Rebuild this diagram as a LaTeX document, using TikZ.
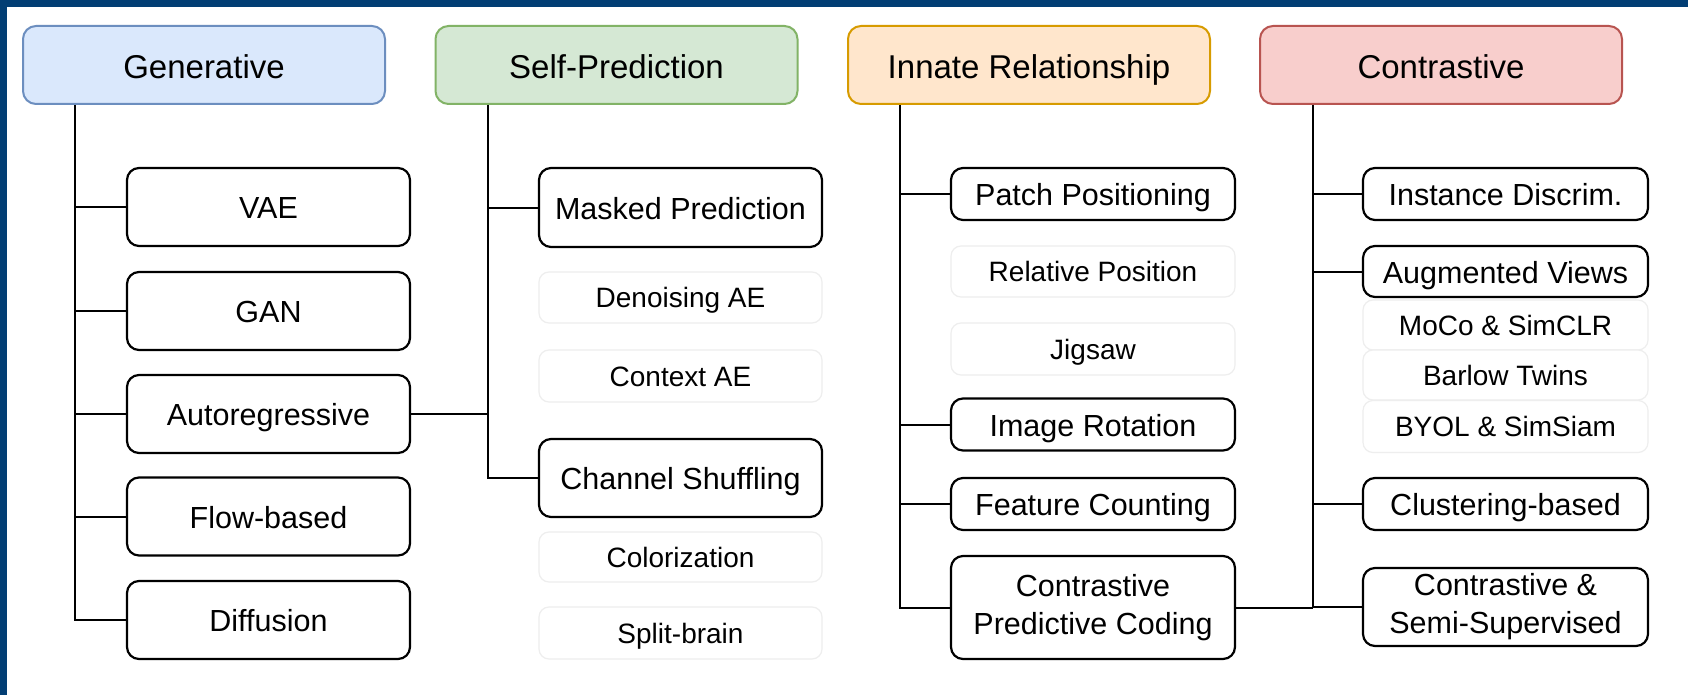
\documentclass[tikz,border=0pt]{standalone}
\usepackage{fontspec}
\setmainfont{Liberation Sans}
\definecolor{frameblue}{RGB}{2,62,116}
\definecolor{genfill}{HTML}{DAE8FC}\definecolor{gendraw}{HTML}{6C8EBF}
\definecolor{spfill}{HTML}{D5E8D4}\definecolor{spdraw}{HTML}{82B366}
\definecolor{irfill}{HTML}{FFE6CC}\definecolor{irdraw}{HTML}{D79B00}
\definecolor{ctfill}{HTML}{F8CECC}\definecolor{ctdraw}{HTML}{B85450}
\definecolor{faintline}{HTML}{EEEEEE}
\begin{document}
\begin{tikzpicture}[x=1pt,y=-1pt,
  twoline/.style={text height=, text depth=},
  head/.style={rounded corners=13pt, line width=2pt, minimum width=362pt,
    minimum height=78pt, inner sep=0pt, text height=30pt, text depth=2pt,
    font=\fontsize{33}{40}\selectfont},
  item/.style={draw=black, line width=2.2pt, rounded corners=12pt, fill=white,
    minimum width=283pt, inner sep=0pt, align=center,
    text height=28pt, text depth=5pt, font=\fontsize{30.5}{38}\selectfont},
  faint/.style={draw=faintline, line width=1.2pt, rounded corners=10pt, fill=white,
    minimum width=283pt, inner sep=0pt, align=center,
    text height=26pt, text depth=6pt, font=\fontsize{28}{34}\selectfont},
  link/.style={line width=2pt, draw=black}]
\useasboundingbox (0,0) rectangle (1688,695);
\fill[white] (0,0) rectangle (1688,695);
% frame strips
\fill[frameblue] (0,0) rectangle (1688,7);
\fill[frameblue] (0,0) rectangle (7,695);

% category headers
\node[head, fill=genfill, draw=gendraw] (gen) at (204,65) {Generative};
\node[head, fill=spfill, draw=spdraw] (sp) at (616.5,65) {Self-Prediction};
\node[head, fill=irfill, draw=irdraw] (ir) at (1029,65) {Innate Relationship};
\node[head, fill=ctfill, draw=ctdraw] (ct) at (1441,65) {Contrastive};

% Generative
\node[item, minimum height=78pt] (vae) at (268.5,207) {VAE};
\node[item, minimum height=78pt] (gan) at (268.5,311) {GAN};
\node[item, minimum height=78pt] (auto) at (268.5,414) {Autoregressive};
\node[item, minimum height=78pt] (flow) at (268.5,516.5) {Flow-based};
\node[item, minimum height=78pt] (diff) at (268.5,620) {Diffusion};

% Self-Prediction
\node[item, minimum height=79pt] (mask) at (680.5,207.5) {Masked Prediction};
\node[faint, minimum height=51pt] (dae) at (680.5,297.5) {Denoising AE};
\node[faint, minimum height=52pt] (cae) at (680.5,376) {Context AE};
\node[item, minimum height=78pt] (chan) at (680.5,478) {Channel Shuffling};
\node[faint, minimum height=50pt] (color) at (680.5,557) {Colorization};
\node[faint, minimum height=52pt] (split) at (680.5,633) {Split-brain};

% Innate Relationship
\node[item, minimum width=284pt, minimum height=52pt] (patch) at (1093,194) {Patch Positioning};
\node[faint, minimum width=284pt, minimum height=51pt] (relpos) at (1093,271.5) {Relative Position};
\node[faint, minimum width=284pt, minimum height=52pt] (jig) at (1093,349) {Jigsaw};
\node[item, minimum width=284pt, minimum height=52pt] (rot) at (1093,424.5) {Image Rotation};
\node[item, minimum width=284pt, minimum height=52pt] (count) at (1093,504) {Feature Counting};
\node[item, twoline, minimum width=284pt, minimum height=103pt] (cpc) at (1093,607.5) {Contrastive\\Predictive Coding};

% Contrastive
\node[item, minimum width=285pt, minimum height=52pt] (inst) at (1505.5,194) {Instance Discrim.};
\node[item, minimum width=285pt, minimum height=51pt] (aug) at (1505.5,271.5) {Augmented Views};
\node[faint, minimum width=285pt, minimum height=50pt] (moco) at (1505.5,325) {MoCo \& SimCLR};
\node[faint, minimum width=285pt, minimum height=50pt] (barlow) at (1505.5,375) {Barlow Twins};
\node[faint, minimum width=285pt, minimum height=52pt] (byol) at (1505.5,426.5) {BYOL \& SimSiam};
\node[item, minimum width=285pt, minimum height=52pt] (clust) at (1505.5,504) {Clustering-based};
\node[item, twoline, minimum width=285pt, minimum height=78pt] (semi) at (1505.5,607) {Contrastive \&\\Semi-Supervised};

% trunk ends
\coordinate (gtrunk) at (75,620);
\coordinate (strunk) at (488,478);
\coordinate (itrunk) at (900,607.5);
\coordinate (ctrunk) at (1313,607);

% Generative tree
\draw[link] (gen.south -| gtrunk) -- (gtrunk) -- (diff.west);
\foreach \n in {vae,gan,auto,flow} \draw[link] (gtrunk |- \n.west) -- (\n.west);

% Self-Prediction tree
\draw[link] (sp.south -| strunk) -- (strunk) -- (chan.west);
\draw[link] (strunk |- mask.west) -- (mask.west);
\draw[link] (auto.east) -- (auto.east -| strunk);

% Innate Relationship tree
\draw[link] (ir.south -| itrunk) -- (itrunk) -- (cpc.west);
\foreach \n in {patch,rot,count} \draw[link] (itrunk |- \n.west) -- (\n.west);

% Contrastive tree
\draw[link] (ct.south -| ctrunk) -- (ctrunk) -- (semi.west);
\foreach \n in {inst,aug,clust} \draw[link] (ctrunk |- \n.west) -- (\n.west);
\draw[link] (cpc.east) -- (cpc.east -| ctrunk);
\end{tikzpicture}
\end{document}
